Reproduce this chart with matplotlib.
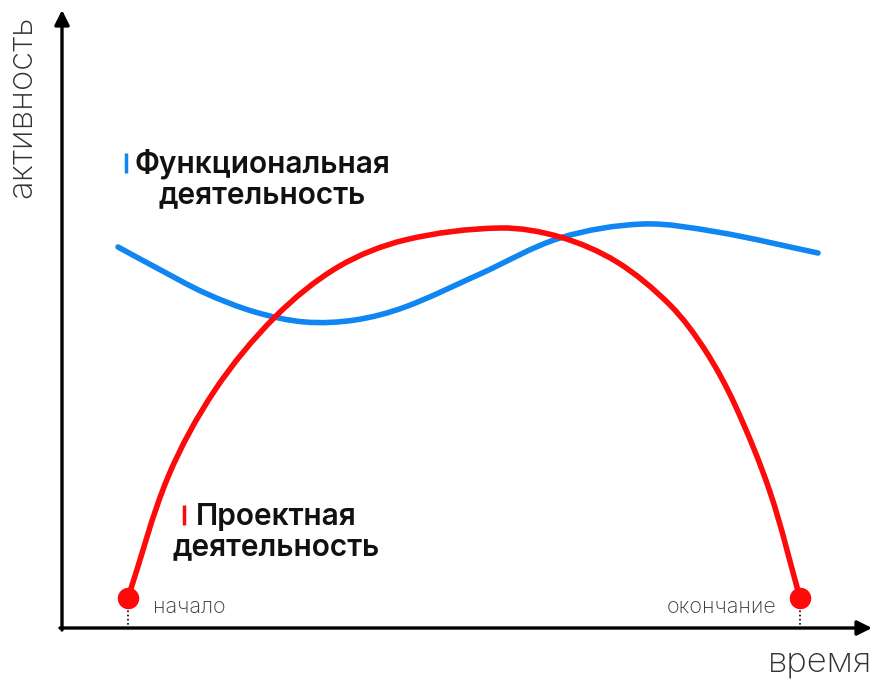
import numpy as np
import matplotlib.pyplot as plt
from matplotlib.path import Path
from matplotlib.patches import PathPatch

# Points (time, activity), origin at the axes corner
project_t = [66, 106, 153, 213, 276, 343, 438, 498, 555, 608,
             643, 673, 708, 738]
project_a = [30, 151, 238, 311, 361, 388, 400, 391, 366, 323,
             278, 223, 136, 30]

functional_t = [56, 93, 143, 193, 243, 293, 343, 418, 498, 581, 655, 756]
functional_a = [381, 361, 335, 316, 306, 308, 321, 354, 390, 404, 396, 375]

start_label = 'начало'
end_label = 'окончание'
x_label = 'время'
y_label = 'активность'
functional_label = 'Функциональная\nдеятельность'
project_label = 'Проектная\nдеятельность'

RED = '#FF0A0A'
BLUE = '#0F86F2'


def smooth_path(xs, ys):
    # smooth curve through the points (chord-length Catmull-Rom as Beziers)
    p = np.column_stack([xs, ys]).astype(float)
    d = np.linalg.norm(np.diff(p, axis=0), axis=1)
    n = len(p)
    tang = np.zeros_like(p)
    tang[0] = (p[1] - p[0]) / d[0]
    tang[-1] = (p[-1] - p[-2]) / d[-1]
    for i in range(1, n - 1):
        tang[i] = (p[i + 1] - p[i - 1]) / (d[i - 1] + d[i])
    verts = [p[0]]
    codes = [Path.MOVETO]
    for i in range(n - 1):
        c1 = p[i] + tang[i] * d[i] / 3
        c2 = p[i + 1] - tang[i + 1] * d[i] / 3
        verts += [c1, c2, p[i + 1]]
        codes += [Path.CURVE4] * 3
    return Path(verts, codes)


plt.rcParams['font.family'] = ['Inter', 'DejaVu Sans']

fig = plt.figure(figsize=(8.75, 6.84), dpi=100)
ax = fig.add_axes([0, 0, 1, 1])
ax.set_xlim(-62, 813)
ax.set_ylim(-56, 628)
ax.axis('off')

# axes with arrows
ax.annotate('', xy=(810, 0), xytext=(-2, 0),
            arrowprops=dict(arrowstyle='-|>', lw=2.4, color='black',
                            mutation_scale=22, shrinkA=0, shrinkB=0))
ax.annotate('', xy=(0, 618), xytext=(0, -2),
            arrowprops=dict(arrowstyle='-|>', lw=2.4, color='black',
                            mutation_scale=22, shrinkA=0, shrinkB=0))

# curves
ax.add_patch(PathPatch(smooth_path(functional_t, functional_a), fill=False,
                       edgecolor=BLUE, lw=4, capstyle='round', zorder=3))
ax.add_patch(PathPatch(smooth_path(project_t, project_a), fill=False,
                       edgecolor=RED, lw=4, capstyle='round', zorder=4))

# start / end markers
ends_t = [project_t[0], project_t[-1]]
ends_a = [project_a[0], project_a[-1]]
for t, a in zip(ends_t, ends_a):
    ax.plot([t, t], [a, 0], color='black', lw=1.2, ls=(0, (1, 1.5)), zorder=2)
ax.scatter(ends_t, ends_a, s=240, color=RED, zorder=5, linewidths=0)

ax.text(ends_t[0] + 25, ends_a[0] - 9, start_label, fontsize=15.5,
        fontweight='light', color='#3a3a3a', ha='left', va='center')
ax.text(ends_t[1] - 24, ends_a[1] - 9, end_label, fontsize=15.5,
        fontweight='light', color='#3a3a3a', ha='right', va='center')

# axis names
ax.text(810, -44, x_label, fontsize=25, fontweight='light', color='#333333',
        ha='right', va='baseline')
ax.text(-40, 521, y_label, fontsize=25, fontweight='light', color='#333333',
        ha='center', va='center', rotation=90)

# curve labels
ax.text(200, 449, functional_label, fontsize=21.5, fontweight='semibold',
        ha='center', va='center', multialignment='center', linespacing=1.12,
        color='#111111')
ax.scatter([64], [465], marker='|', s=200, color=BLUE, linewidths=2.5)

ax.text(214, 96, project_label, fontsize=21.5, fontweight='semibold',
        ha='center', va='center', multialignment='center', linespacing=1.12,
        color='#111111')
ax.scatter([122], [113], marker='|', s=200, color=RED, linewidths=2.5)

fig.savefig('out.png', dpi=100)
